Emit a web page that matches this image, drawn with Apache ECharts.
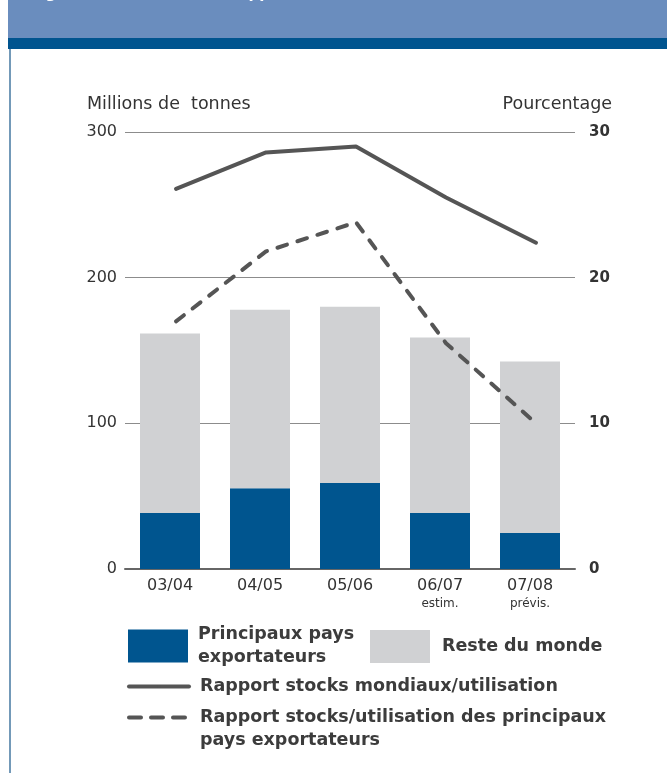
<!DOCTYPE html>
<html>
<head>
<meta charset="utf-8">
<script src="https://cdn.jsdelivr.net/npm/echarts@6/dist/echarts.min.js"></script>
<style>
  html, body { margin: 0; padding: 0; background: #fff; }
  #chart { width: 667px; height: 773px; }
</style>
</head>
<body>
<div id="chart"></div>
<script>
const seasons = ['03/04', '04/05', '05/06', '06/07', '07/08']
const seasonNotes = ['', '', '', 'estim.', 'prévis.']
const exporters = [38.4, 55.5, 59, 38.4, 24.7]
const restOfWorld = [123.2, 122.5, 121, 120.6, 117.8]
const worldRatio = [26.1, 28.6, 29.0, 25.5, 22.4]
const exporterRatio = [17.0, 21.8, 23.8, 15.5, 10.0]
const tonnesTicks = [0, 100, 200, 300]
const percentTicks = [0, 10, 20, 30]

const FONT = 'DejaVu Sans'
const blue = '#00558f'
const grey = '#d0d1d3'
const lineGrey = '#555555'

const chart = echarts.init(document.getElementById('chart'))

const legendText = {
  fontFamily: FONT,
  fontSize: 17.5,
  fontWeight: 'bold',
  color: '#3c3c3c',
  lineHeight: 23
}

chart.setOption({
  animation: false,
  backgroundColor: '#fff',
  textStyle: { fontFamily: FONT },
  title: [
    {
      text: 'Millions de  tonnes',
      left: 87, top: 95,
      padding: 0,
      textStyle: { fontFamily: FONT, fontSize: 17.5, fontWeight: 'normal', color: '#333' }
    },
    {
      text: 'Pourcentage',
      right: 55, top: 95,
      padding: 0,
      textStyle: { fontFamily: FONT, fontSize: 17.5, fontWeight: 'normal', color: '#333' }
    }
  ],
  graphic: [
    { type: 'rect', shape: { x: 8, y: 0, width: 659, height: 38 }, style: { fill: '#6a8dbe' } },
    { type: 'rect', shape: { x: 8, y: 38, width: 659, height: 11 }, style: { fill: '#00548f' } },
    { type: 'rect', shape: { x: 9, y: 49, width: 2, height: 724 }, style: { fill: '#7399b8' } },
    {
      type: 'text', x: 30, y: -13,
      style: { text: 'Figure 4. Blé: stocks et rapport stocks/utilisation', fill: '#fff', font: 'bold 15px "DejaVu Sans"' }
    }
  ],
  legend: [
    {
      data: ['Principaux pays exportateurs'],
      left: 128, top: 623, padding: 0,
      itemWidth: 60, itemHeight: 33, icon: 'rect',
      selectedMode: false,
      formatter: () => 'Principaux pays\nexportateurs',
      textStyle: Object.assign({}, legendText, { padding: [0, 0, 0, 5] })
    },
    {
      data: ['Reste du monde'],
      left: 370, top: 630, padding: 0,
      itemWidth: 60, itemHeight: 33, icon: 'rect',
      selectedMode: false,
      textStyle: Object.assign({}, legendText, { padding: [0, 0, 0, 7] })
    },
    {
      data: ['Rapport stocks mondiaux/utilisation'],
      left: 127, top: 675, padding: 0,
      itemWidth: 60, itemHeight: 4,
      selectedMode: false,
      lineStyle: { width: 4, cap: 'round' },
      textStyle: Object.assign({}, legendText, { padding: [0, 0, 0, 6] })
    },
    {
      data: ['Rapport stocks/utilisation des principaux pays exportateurs'],
      left: 127, top: 683, padding: 0,
      itemWidth: 60, itemHeight: 4,
      selectedMode: false,
      lineStyle: { width: 4, cap: 'round', type: [12, 10] },
      formatter: () => '\nRapport stocks/utilisation des principaux\npays exportateurs',
      textStyle: Object.assign({}, legendText, { padding: [0, 0, 0, 6] })
    }
  ],
  grid: [
    { left: 125, right: 92, top: 132, bottom: 204 },
    { left: 131, right: 86, top: 132, bottom: 204 }
  ],
  xAxis: [
    {
      type: 'category',
      gridIndex: 0,
      data: seasons,
      axisTick: { show: false },
      axisLine: { lineStyle: { color: '#666', width: 2 } },
      axisLabel: {
        interval: 0,
        margin: 8,
        color: '#333',
        fontSize: 16,
        lineHeight: 18,
        formatter: (v, i) => seasonNotes[i] ? v + '\n{s|' + seasonNotes[i] + '}' : v,
        rich: { s: { fontSize: 12, color: '#333', lineHeight: 18, fontFamily: FONT } }
      }
    },
    {
      type: 'category',
      gridIndex: 1,
      data: seasons,
      show: false
    }
  ],
  yAxis: [
    {
      type: 'value',
      gridIndex: 0,
      min: 0, max: 300, interval: 100,
      axisLine: { show: false },
      axisTick: { show: false },
      axisLabel: {
        margin: 8, color: '#333', fontSize: 16,
        customValues: tonnesTicks
      },
      splitLine: { lineStyle: { color: '#8c8c8c', width: 1 } }
    },
    {
      type: 'value',
      gridIndex: 0,
      position: 'right',
      min: 0, max: 30, interval: 10,
      axisLine: { show: false },
      axisTick: { show: false },
      splitLine: { show: false },
      axisLabel: {
        margin: 14, color: '#333', fontSize: 15, fontWeight: 'bold',
        customValues: percentTicks
      }
    },
    {
      type: 'value',
      gridIndex: 1,
      min: 0, max: 30,
      show: false,
      splitLine: { show: false }
    }
  ],
  series: [
    {
      name: 'Principaux pays exportateurs',
      type: 'bar',
      stack: 'stocks',
      xAxisIndex: 0, yAxisIndex: 0,
      barWidth: 60,
      itemStyle: { color: blue },
      data: exporters
    },
    {
      name: 'Reste du monde',
      type: 'bar',
      stack: 'stocks',
      xAxisIndex: 0, yAxisIndex: 0,
      barWidth: 60,
      itemStyle: { color: grey },
      data: restOfWorld
    },
    {
      name: 'Rapport stocks mondiaux/utilisation',
      type: 'line',
      xAxisIndex: 1, yAxisIndex: 2,
      symbol: 'none',
      itemStyle: { color: lineGrey },
      lineStyle: { color: lineGrey, width: 4, cap: 'round', join: 'round' },
      data: worldRatio
    },
    {
      name: 'Rapport stocks/utilisation des principaux pays exportateurs',
      type: 'line',
      xAxisIndex: 1, yAxisIndex: 2,
      symbol: 'none',
      itemStyle: { color: lineGrey },
      lineStyle: { color: lineGrey, width: 4, type: [10, 11], cap: 'round', join: 'round' },
      data: exporterRatio
    }
  ]
})
</script>
</body>
</html>
